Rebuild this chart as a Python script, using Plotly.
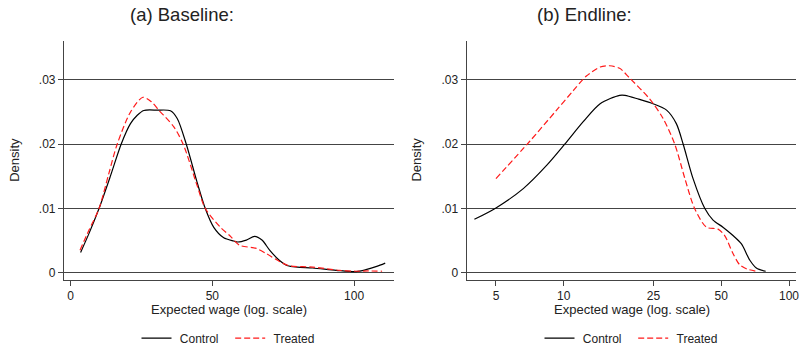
import plotly.graph_objects as go

# ---------------- data ----------------
base_ctrl_x = [3.5, 6.4, 10.0, 14.1, 17.8, 21.1, 23.5, 25.8, 30.5, 35.2, 37.6, 40.8, 44.6, 47.5,
               50.5, 54.0, 57.5, 59.0, 62.0, 64.9, 67.5, 70.2, 73.5, 76.6, 80.0, 85.4, 93.7,
               100.7, 104.2, 108.0, 111.0]
base_ctrl_y = [0.00318, 0.00606, 0.0100, 0.01515, 0.0200, 0.0232, 0.0245, 0.02525, 0.0253, 0.0252,
               0.0240, 0.0200, 0.0141, 0.0100, 0.00707, 0.00545, 0.00495, 0.0048, 0.0051, 0.00566,
               0.0051, 0.00354, 0.0020, 0.0011, 0.0009, 0.00076, 0.0004, 0.0002, 0.0005, 0.0010,
               0.00152]

base_treat_x = [3.3, 6.4, 10.0, 13.5, 16.4, 21.1, 25.5, 28.5, 31.1, 36.4, 39.7, 44.6, 47.5, 52.8,
                56.1, 59.6, 65.5, 69.0, 73.7, 77.2, 85.4, 94.8, 100.7, 105.0, 109.9]
base_treat_y = [0.00353, 0.0066, 0.0100, 0.0155, 0.0200, 0.0250, 0.0273, 0.0266, 0.0253, 0.0227,
                0.0200, 0.0136, 0.0100, 0.0071, 0.0058, 0.0043, 0.0038, 0.0030, 0.00177, 0.0011,
                0.0009, 0.0004, 0.00025, 0.0003, 0.00025]

end_ctrl_x = [4.01, 5.0, 6.61, 8.39, 10.1, 12.2, 14.5, 17.7, 18.7, 21.5, 24.9, 28.6, 31.6, 33.9,
              37.5, 42.3, 46.0, 50.9, 56.4, 61.5, 66.9, 71.6, 78.8]
end_ctrl_y = [0.00833, 0.0101, 0.0131, 0.0167, 0.0200, 0.0235, 0.0263, 0.0276, 0.0276, 0.0270,
              0.0263, 0.0253, 0.0232, 0.0200, 0.01465, 0.0100, 0.0082, 0.0071, 0.0058, 0.0045,
              0.0020, 0.00076, 0.00025]

end_treat_x = [5.0, 7.08, 9.29, 11.0, 12.6, 14.5, 16.0, 17.7, 19.6, 24.1, 27.6, 31.1, 34.5, 38.1,
               43.0, 48.4, 51.8, 56.4, 60.4, 65.0, 71.6]
end_treat_y = [0.01465, 0.0205, 0.0253, 0.0283, 0.0306, 0.0320, 0.0322, 0.0318, 0.0303, 0.0270,
               0.0240, 0.0200, 0.01465, 0.0100, 0.0071, 0.0068, 0.0058, 0.0030, 0.00126, 0.0006,
               0.00025]

y_tickvals = [0, 0.01, 0.02, 0.03]
y_ticktext = ["0", ".01", ".02", ".03"]
base_x_ticks = [0, 50, 100]
end_x_ticks = [5, 10, 25, 50, 100]

# ---------------- styling ----------------
W, H = 800, 353
FONT = "Liberation Sans, Arial, sans-serif"
GRID = "#444444"
TXT = "#222222"
NB = "\u00a0"

def px(xp):
    return xp / W

def py(yp):
    return 1 - yp / H

fig = go.Figure()

ctrl_line = dict(color="black", width=1.2, shape="spline", smoothing=0.8)
treat_line = dict(color="#ff1a1a", width=1.2, dash="6px,3px", shape="spline", smoothing=0.8)

ctrl_name = NB + "Control" + NB + NB
treat_name = NB + "Treated"

fig.add_trace(go.Scatter(x=base_ctrl_x, y=base_ctrl_y, mode="lines", name=ctrl_name,
                         line=ctrl_line, xaxis="x", yaxis="y", legend="legend"))
fig.add_trace(go.Scatter(x=base_treat_x, y=base_treat_y, mode="lines", name=treat_name,
                         line=treat_line, xaxis="x", yaxis="y", legend="legend"))
fig.add_trace(go.Scatter(x=end_ctrl_x, y=end_ctrl_y, mode="lines", name=ctrl_name,
                         line=ctrl_line, xaxis="x2", yaxis="y2", legend="legend2"))
fig.add_trace(go.Scatter(x=end_treat_x, y=end_treat_y, mode="lines", name=treat_name,
                         line=treat_line, xaxis="x2", yaxis="y2", legend="legend2"))

ydom = [py(287), py(42)]
yrange = [-0.00106, 0.03606]

common_x = dict(showline=True, linecolor=GRID, linewidth=1.2, ticks="outside", ticklen=5,
                tickcolor=GRID, tickwidth=1.2, showgrid=False, zeroline=False,
                automargin=False,
                tickfont=dict(family=FONT, size=12, color=TXT), mirror=False)
common_y = dict(showline=True, linecolor=GRID, linewidth=1.2, ticks="outside", ticklen=5,
                tickcolor=GRID, tickwidth=1.2, showgrid=True, gridcolor=GRID, gridwidth=1.2,
                zeroline=True, zerolinecolor=GRID, zerolinewidth=1.2, automargin=False,
                tickvals=y_tickvals, ticktext=y_ticktext, range=yrange, domain=ydom,
                tickfont=dict(family=FONT, size=12, color=TXT))

fig.update_layout(
    template="none",
    autosize=False,
    width=W, height=H,
    margin=dict(l=0, r=0, t=0, b=0, pad=0),
    paper_bgcolor="white", plot_bgcolor="white",
    font=dict(family=FONT, size=12, color=TXT),
    xaxis=dict(domain=[px(64), px(394)], range=[-2.36, 114.1], anchor="y",
               tickvals=base_x_ticks, ticktext=[str(v) for v in base_x_ticks], **common_x),
    yaxis=dict(anchor="x", **common_y),
    xaxis2=dict(domain=[px(466.7), px(796)], type="log", range=[0.569, 2.031], anchor="y2",
                tickvals=end_x_ticks, ticktext=[str(v) for v in end_x_ticks], **common_x),
    yaxis2=dict(anchor="x2", **common_y),
    legend=dict(orientation="h", x=px(228), xanchor="center", y=py(347), yanchor="middle",
                font=dict(family=FONT, size=12, color=TXT), bgcolor="rgba(0,0,0,0)",
                itemwidth=30),
    legend2=dict(orientation="h", x=px(631), xanchor="center", y=py(347), yanchor="middle",
                 font=dict(family=FONT, size=12, color=TXT), bgcolor="rgba(0,0,0,0)",
                 itemwidth=30),
    showlegend=True,
)

annotations = [
    dict(text="(a) Baseline:", x=px(181.5), y=py(15), font=dict(size=18.5)),
    dict(text="(b) Endline:", x=px(584.7), y=py(15), font=dict(size=18.5)),
    dict(text="Expected wage (log. scale)", x=px(228.5), y=py(318), font=dict(size=13)),
    dict(text="Expected wage (log. scale)", x=px(632), y=py(318), font=dict(size=13)),
    dict(text="Density", x=px(15), y=py(164), textangle=-90, font=dict(size=13)),
    dict(text="Density", x=px(416.7), y=py(164), textangle=-90, font=dict(size=13)),
]
for a in annotations:
    a.update(xref="paper", yref="paper", showarrow=False, xanchor="center", yanchor="middle")
    a["font"].update(family=FONT, color=TXT)
fig.update_layout(annotations=annotations)

fig.write_html(
    "out.html",
    config={"displayModeBar": False, "responsive": False},
    post_script="document.body.style.margin='0';document.body.style.padding='0';"
                "document.body.style.overflow='hidden';",
)
